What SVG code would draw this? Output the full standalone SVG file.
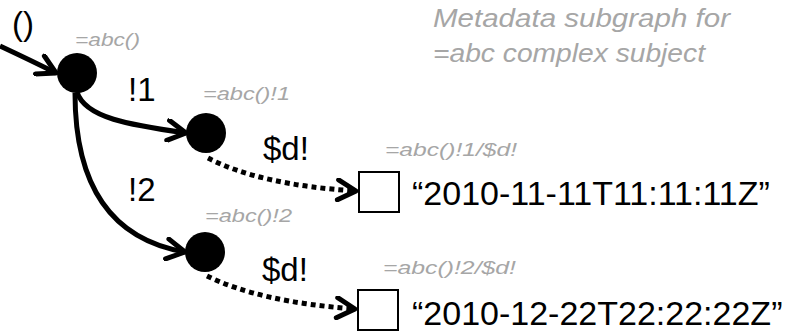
<svg xmlns="http://www.w3.org/2000/svg" width="793" height="332" viewBox="0 0 793 332">
<style>
.lbl{font-family:"Liberation Sans",Arial,sans-serif;fill:#000;font-size:33px}
.val{font-family:"Liberation Sans",Arial,sans-serif;fill:#000;font-size:34px}
.path{font-family:"Liberation Sans",Arial,sans-serif;fill:#a6a6a6;font-size:19px;font-style:italic}
.title{font-family:"Liberation Sans",Arial,sans-serif;fill:#a6a6a6;font-size:26px;font-style:italic}
.edge{fill:none;stroke:#000;stroke-width:5}
.dot{fill:none;stroke:#000;stroke-width:5;stroke-dasharray:5 4}
.node{fill:#000}
.leaf{fill:#fff;stroke:#000;stroke-width:2}
</style>
<defs>
<marker id="arr" viewBox="0 0 24 24" refX="21" refY="12" markerWidth="24" markerHeight="24" markerUnits="userSpaceOnUse" orient="auto">
<path d="M3,2 L21,12 L3,22" fill="none" stroke="#000" stroke-width="5" stroke-dasharray="none" stroke-linecap="round" stroke-linejoin="round"/>
</marker>
</defs>
<rect width="793" height="332" fill="#fff"/>
<g id="connectors">
<path class="edge" d="M0,46 Q30,60 56,73" marker-end="url(#arr)"/>
<path class="edge" d="M77,92 C85,118 130,125 186,133" marker-end="url(#arr)"/>
<path class="edge" d="M75,93 C75,190 115,240 185,252" marker-end="url(#arr)"/>
<path class="dot" d="M208,158 Q260,185 356,191" marker-end="url(#arr)"/>
<path class="dot" d="M207,276 Q260,302 355,309" marker-end="url(#arr)"/>
</g>
<g id="root">
<circle class="node" cx="77" cy="73" r="20"/>
<text class="path" x="75" y="46" textLength="65" lengthAdjust="spacingAndGlyphs">=abc()</text>
</g>
<text class="lbl" x="12" y="35">()</text>
<g id="n1">
<circle class="node" cx="206" cy="133" r="20"/>
<text class="path" x="203" y="100" textLength="87" lengthAdjust="spacingAndGlyphs">=abc()!1</text>
</g>
<text class="lbl" x="128" y="101">!1</text>
<g id="n2">
<circle class="node" cx="205" cy="252" r="20"/>
<text class="path" x="205" y="222" textLength="87" lengthAdjust="spacingAndGlyphs">=abc()!2</text>
</g>
<text class="lbl" x="128" y="201">!2</text>
<g id="leaf1">
<rect class="leaf" x="359" y="172" width="40" height="40"/>
<text class="path" x="385" y="156" textLength="132" lengthAdjust="spacingAndGlyphs">=abc()!1/$d!</text>
<text class="val" x="412" y="205">“2010-11-11T11:11:11Z”</text>
</g>
<text class="lbl" x="263" y="160">$d!</text>
<g id="leaf2">
<rect class="leaf" x="358" y="290" width="40" height="40"/>
<text class="path" x="383" y="274" textLength="133" lengthAdjust="spacingAndGlyphs">=abc()!2/$d!</text>
<text class="val" x="412" y="325">“2010-12-22T22:22:22Z”</text>
</g>
<text class="lbl" x="262" y="281">$d!</text>
<g id="title">
<text class="title" x="433" y="27" textLength="297" lengthAdjust="spacingAndGlyphs">Metadata subgraph for</text>
<text class="title" x="433" y="62" textLength="272" lengthAdjust="spacingAndGlyphs">=abc complex subject</text>
</g>
</svg>
